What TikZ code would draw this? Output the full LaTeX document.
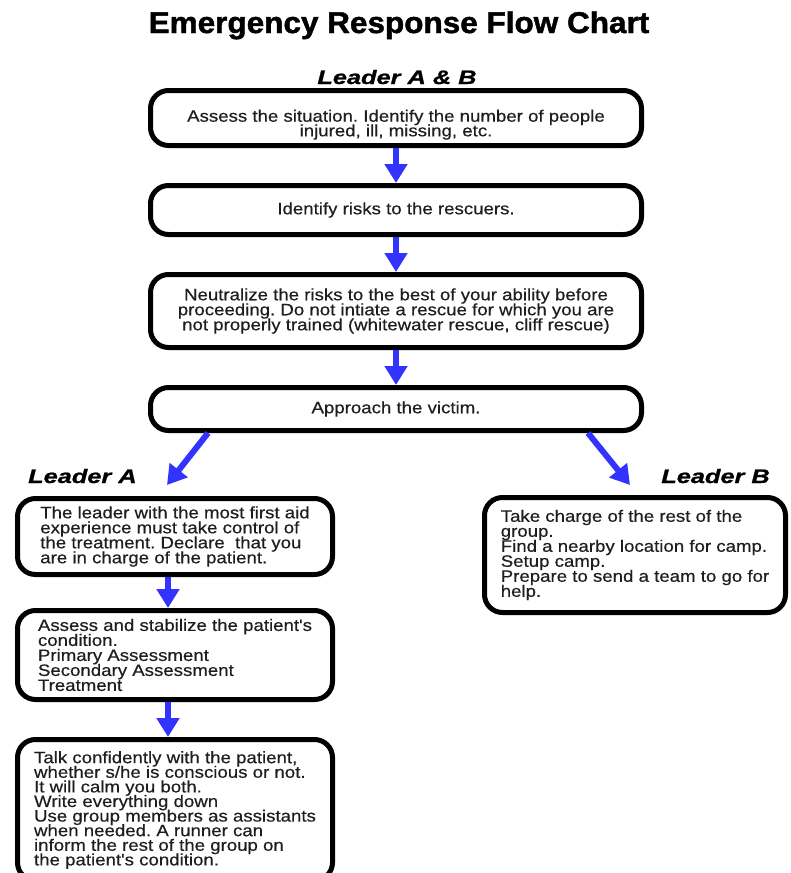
\documentclass[tikz,border=0pt]{standalone}
\usepackage{fontspec}
\usetikzlibrary{arrows.meta}
\setmainfont{Liberation Sans}
\newfontfamily\bodyfont[FakeBold=0.4,FakeStretch=1.13]{Liberation Sans}
\newfontfamily\titlefont[FakeBold=1.5,FakeStretch=1.05]{Liberation Sans Bold}
\newfontfamily\leadfont[FakeBold=1,FakeStretch=1.3]{Liberation Sans Bold Italic}
\definecolor{arrowblue}{RGB}{51,51,255}
\definecolor{bodytext}{RGB}{30,30,30}
\frenchspacing
\newcommand\mytight{\lineskiplimit=-30pt\relax\lineskip=0pt\relax}
\tikzset{
  box/.style={draw=black, line width=5pt, rounded corners=18pt, fill=white,
    inner sep=2pt, text=bodytext},
  bodyA/.style={font=\bodyfont\fontsize{16.5pt}{15pt}\selectfont\mytight},
  bodyB/.style={font=\bodyfont\fontsize{16.5pt}{14.6pt}\selectfont\mytight},
  flow/.style={draw=arrowblue, line width=6pt,
    -{Triangle[width=22pt,length=19pt]}},
  titletext/.style={font=\titlefont\fontsize{30pt}{34pt}\selectfont, inner sep=0pt},
  leadtext/.style={font=\leadfont\fontsize{19.5pt}{22pt}\selectfont, inner sep=0pt}
}
\begin{document}
\begin{tikzpicture}[x=1pt,y=-1pt]
\useasboundingbox (0,0) rectangle (790,873);
\clip (0,0) rectangle (790,873);
\fill[white] (0,0) rectangle (790,873);

% titles
\node[titletext, anchor=base] (title) at (399,33) {Emergency Response Flow Chart};
\node[leadtext, anchor=base] (lab) at (397,84) {Leader A \& B};
\node[leadtext, anchor=base west] (la) at (28,483) {Leader A};
\node[leadtext, anchor=base east] (lb) at (770,483) {Leader B};

% common boxes
\node[box, bodyB, align=center, minimum width=491pt, minimum height=55pt, text depth=0pt] (b1) at (396,118)
  {\rule{0pt}{22pt}Assess the situation. Identify the number of people\\injured, ill, missing, etc.};
\node[box, bodyA, align=center, minimum width=491pt, minimum height=49pt] (b2) at (396,210)
  {Identify risks to the rescuers.};
\node[box, bodyA, align=center, minimum width=491pt, minimum height=73pt] (b3) at (396,311)
  {Neutralize the risks to the best of your ability before\\proceeding. Do not intiate a rescue for which you are\\not properly trained (whitewater rescue, cliff rescue)};
\node[box, bodyA, align=center, minimum width=491pt, minimum height=43pt] (b4) at (396,409)
  {Approach the victim.};

% leader A boxes
\node[box, bodyA, align=left, minimum width=315pt, minimum height=76pt] (a1) at (175,536.5)
  {The leader with the most first aid\\experience must take control of\\the treatment. Declare~ that you\\are in charge of the patient.};
\node[box, bodyA, align=left, minimum width=315pt, minimum height=89pt] (a2) at (175,655)
  {Assess and stabilize the patient's\\condition.\\Primary Assessment\\Secondary Assessment\\Treatment};
\node[box, bodyB, align=left, minimum width=315pt, minimum height=141pt] (a3) at (175,810)
  {Talk confidently with the patient,\\whether s/he is conscious or not.\\It will calm you both.\\Write everything down\\Use group members as assistants\\when needed. A runner can\\inform the rest of the group on\\the patient's condition.};

% leader B box
\node[box, bodyA, align=left, minimum width=301pt, minimum height=115pt] (bb) at (635,555)
  {Take charge of the rest of the\\group.\\Find a nearby location for camp.\\Setup camp.\\Prepare to send a team to go for\\help.};

% connectors
\coordinate (tipA) at (167,485);
\coordinate (tipB) at (630,485);
\draw[flow] (b1.south) -- (b2.north);
\draw[flow] (b2.south) -- (b3.north);
\draw[flow] (b3.south) -- (b4.north);
\draw[flow] ([xshift=-188pt]b4.south) -- (tipA);
\draw[flow] ([xshift=192pt]b4.south) -- (tipB);
\draw[flow] ([xshift=-7pt]a1.south) -- ([xshift=-7pt]a2.north);
\draw[flow] ([xshift=-7pt]a2.south) -- ([xshift=-7pt]a3.north);
\end{tikzpicture}
\end{document}
